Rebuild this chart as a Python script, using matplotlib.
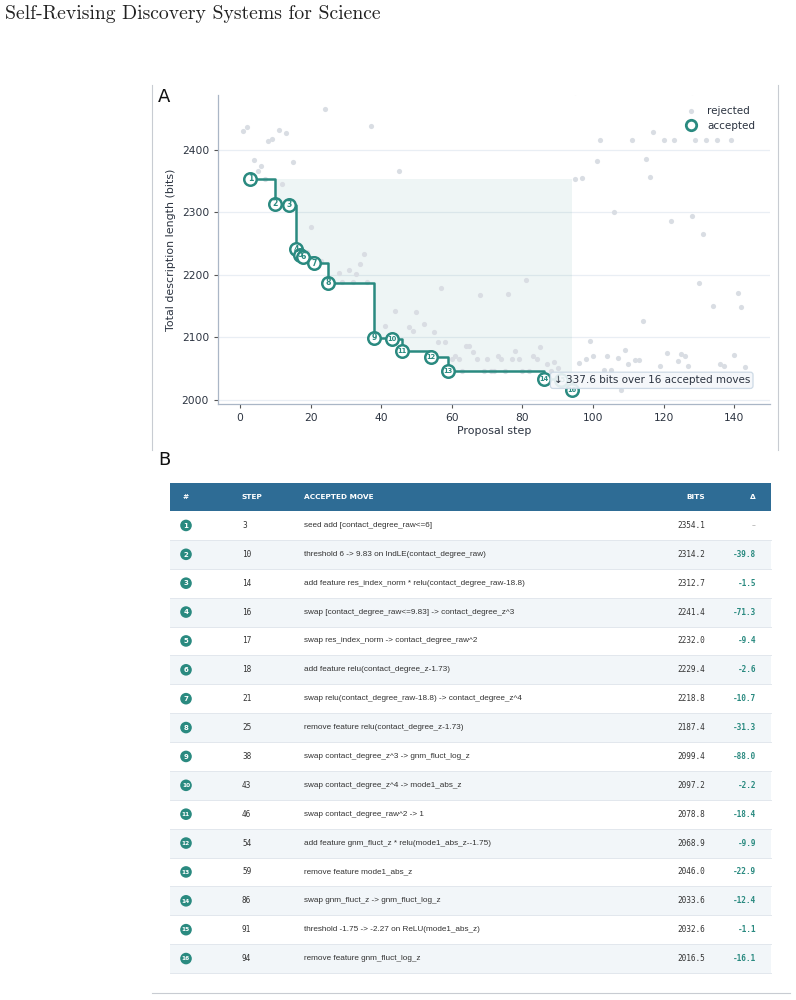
import numpy as np
import matplotlib
matplotlib.use("Agg")
from matplotlib import pyplot as plt
from matplotlib.patches import Circle, Rectangle

# accepted moves
acc_steps = [3, 10, 14, 16, 17, 18, 21, 25, 38, 43, 46, 54, 59, 86, 91, 94]
acc_bits = [2354.1, 2314.2, 2312.7, 2241.4, 2232.0, 2229.4, 2218.8, 2187.4,
            2099.4, 2097.2, 2078.8, 2068.9, 2046.0, 2033.6, 2032.6, 2016.5]
acc_delta = ["–", "-39.8", "-1.5", "-71.3", "-9.4", "-2.6", "-10.7", "-31.3",
             "-88.0", "-2.2", "-18.4", "-9.9", "-22.9", "-12.4", "-1.1", "-16.1"]
acc_moves = [
    "seed add [contact_degree_raw<=6]",
    "threshold 6 -> 9.83 on IndLE(contact_degree_raw)",
    "add feature res_index_norm * relu(contact_degree_raw-18.8)",
    "swap [contact_degree_raw<=9.83] -> contact_degree_z^3",
    "swap res_index_norm -> contact_degree_raw^2",
    "add feature relu(contact_degree_z-1.73)",
    "swap relu(contact_degree_raw-18.8) -> contact_degree_z^4",
    "remove feature relu(contact_degree_z-1.73)",
    "swap contact_degree_z^3 -> gnm_fluct_log_z",
    "swap contact_degree_z^4 -> mode1_abs_z",
    "swap contact_degree_raw^2 -> 1",
    "add feature gnm_fluct_z * relu(mode1_abs_z--1.75)",
    "remove feature mode1_abs_z",
    "swap gnm_fluct_z -> gnm_fluct_log_z",
    "threshold -1.75 -> -2.27 on ReLU(mode1_abs_z)",
    "remove feature gnm_fluct_log_z",
]

# rejected proposals
rej_steps = [1, 2, 24, 8, 9, 11, 13, 37, 4, 6, 5, 15, 45, 7, 12, 20,
             102, 111, 117, 120, 123, 129, 132, 135, 139, 101, 115, 95, 97, 116, 106, 122, 128, 131,
             95, 128,
             19, 23, 35, 34, 28, 31, 33, 29, 32, 36, 44, 41, 48, 50,
             57, 68, 76, 81, 49, 52, 55, 56, 58, 64, 65, 66, 61, 62, 60, 67, 70, 73, 74, 77, 78, 79,
             83, 84, 85, 87, 89, 90, 88, 63, 69, 71, 72, 75, 80, 82,
             96, 98, 99, 100,
             114, 130, 134, 141, 142, 104, 107, 109, 110, 112, 113, 103, 105, 108, 119, 121, 124,
             125, 126, 127, 136, 137, 140, 143]
rej_bits = [2431, 2437, 2465, 2415, 2418, 2432, 2427, 2439, 2384, 2375, 2367, 2380, 2367, 2354, 2345, 2276,
            2416, 2416, 2429, 2416, 2416, 2416, 2416, 2416, 2416, 2383, 2385, 2353, 2355, 2357, 2300, 2286, 2295, 2266,
            2492, 2492,
            2236, 2222, 2233, 2218, 2203, 2208, 2201, 2188, 2188, 2188, 2143, 2119, 2116, 2140,
            2179, 2168, 2169, 2192, 2110, 2121, 2109, 2093, 2093, 2087, 2087, 2077, 2070, 2065, 2065, 2065, 2065, 2071, 2065, 2065, 2078, 2065,
            2071, 2065, 2085, 2057, 2061, 2051, 2047, 2046, 2046, 2046, 2047, 2046, 2046, 2046,
            2059, 2065, 2095, 2070,
            2127, 2187, 2151, 2171, 2149, 2070, 2067, 2080, 2058, 2064, 2064, 2048, 2048, 2016, 2055, 2075, 2062,
            2073, 2070, 2055, 2057, 2054, 2072, 2053]

teal = "#2a8a80"
dark = "#2b3340"
grey = "#d9dde3"
spine_c = "#aab6c6"

W, H = 796, 1000
fig = plt.figure(figsize=(W / 100, H / 100), dpi=100)

# page-level overlay in pixel coordinates (title, panel labels, frame, table)
pg = fig.add_axes([0, 0, 1, 1])
pg.set_xlim(0, W)
pg.set_ylim(H, 0)
pg.axis("off")

pg.text(5, 14, "Self-Revising Discovery Systems for Science", family="cmr10",
        fontsize=14.2, color="#222222", va="center", ha="left")
pg.text(158, 97, "A", fontsize=13, color="#111111", va="center", ha="left")
pg.text(158, 460, "B", fontsize=13, color="#111111", va="center", ha="left")
pg.plot([152, 152], [85, 450], color="#c8ccd2", lw=0.8)
pg.plot([778, 778], [85, 450], color="#c8ccd2", lw=0.8)
pg.plot([152, 790], [993, 993], color="#c8ccd2", lw=0.8)

# ---- table ----
tx0, tx1 = 170, 771
hy0, hy1 = 483, 511
rh = (973 - hy1) / len(acc_steps)
pg.add_patch(Rectangle((tx0, hy0), tx1 - tx0, hy1 - hy0, color="#2e6c95", lw=0))
hy = (hy0 + hy1) / 2
hk = dict(color="white", fontsize=5.3, fontweight="bold", va="center")
pg.text(186, hy, "#", ha="center", **hk)
pg.text(242, hy, "STEP", ha="left", **hk)
pg.text(304, hy, "ACCEPTED MOVE", ha="left", **hk)
pg.text(705, hy, "BITS", ha="right", **hk)
pg.text(756, hy, "Δ", ha="right", **hk)

for i in range(len(acc_steps)):
    y0 = hy1 + i * rh
    yc = y0 + rh / 2
    if i % 2 == 1:
        pg.add_patch(Rectangle((tx0, y0), tx1 - tx0, rh, color="#f2f6f9", lw=0))
    pg.plot([tx0, tx1], [y0 + rh, y0 + rh], color="#e2e7ed", lw=0.7)
    pg.add_patch(Circle((186, yc), 5.8, color=teal, lw=0))
    pg.text(186, yc + 0.3, str(i + 1), ha="center", va="center", color="white",
            fontsize=5.0 if i < 9 else 4.2, fontweight="bold")
    pg.text(242, yc, str(acc_steps[i]), ha="left", va="center", family="DejaVu Sans Mono",
            fontsize=5.6, color="#333333")
    pg.text(304, yc, acc_moves[i], ha="left", va="center", family="Liberation Sans",
            fontsize=5.9, color="#333333")
    pg.text(705, yc, "%.1f" % acc_bits[i], ha="right", va="center", family="DejaVu Sans Mono",
            fontsize=5.6, color="#333333")
    if i == 0:
        pg.text(756, yc, acc_delta[i], ha="right", va="center", fontsize=5.6, color="#b0b0b0")
    else:
        pg.text(756, yc, acc_delta[i], ha="right", va="center", family="DejaVu Sans Mono",
                fontsize=5.6, color=teal, fontweight="bold")

# ---- panel A ----
ax = fig.add_axes([218 / W, 1 - 404 / H, 552 / W, 309 / H])
ax.set_facecolor("none")
ax.set_xlim(-6.2, 150.1)
ax.set_ylim(1993.6, 2488)

ax.scatter(rej_steps, rej_bits, s=14, color=grey, lw=0, zorder=2, label="rejected")

ax.fill_between(acc_steps, acc_bits, acc_bits[0], step="post", color=teal, alpha=0.08, lw=0, zorder=1)
ax.plot(acc_steps, acc_bits, drawstyle="steps-post", color=teal, lw=1.8, zorder=3)
ax.plot(acc_steps, acc_bits, "o", ms=9, mfc="white", mec=teal, mew=1.8, zorder=4, ls="none")
ax.plot([], [], "o", ms=7.5, mfc="white", mec=teal, mew=2.0, ls="none", label="accepted")
for i in range(len(acc_steps)):
    ax.text(acc_steps[i], acc_bits[i], str(i + 1), ha="center", va="center", color=teal,
            fontsize=5.6 if i < 9 else 4.8, fontweight="bold", zorder=5)

total = acc_bits[0] - acc_bits[-1]
ax.text(88.8, 2031.5, "↓ %.1f bits over %d accepted moves" % (total, len(acc_steps)),
        fontsize=7.5, color=dark, ha="left", va="center", zorder=6,
        bbox=dict(boxstyle="round,pad=0.3,rounding_size=0.25", fc="#f4f7fa", ec="#c8d6e3",
                  lw=0.9, alpha=0.9))

ax.set_xticks(range(0, 141, 20))
ax.set_yticks(range(2000, 2401, 100))
ax.grid(axis="y", color="#e9eef4", lw=0.9)
ax.set_axisbelow(True)
for s in ["top", "right"]:
    ax.spines[s].set_visible(False)
for s in ["left", "bottom"]:
    ax.spines[s].set_color(spine_c)
    ax.spines[s].set_linewidth(0.9)
ax.tick_params(labelsize=7.7, colors=dark, length=3, width=0.8)
ax.tick_params(axis="both", color="#555555")
ax.set_xlabel("Proposal step", fontsize=7.9, color=dark, labelpad=2)
ax.set_ylabel("Total description length (bits)", fontsize=7.9, color=dark, labelpad=4)

leg = ax.legend(loc="upper right", frameon=False, fontsize=7.5, handletextpad=0.6,
                labelcolor=dark, borderaxespad=0.2, bbox_to_anchor=(0.985, 0.985))

fig.savefig("out.png", dpi=100)
